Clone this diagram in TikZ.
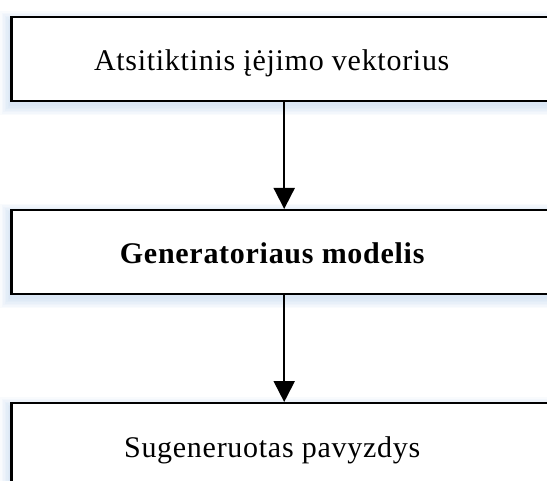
\documentclass[tikz,border=0pt]{standalone}
\usepackage{fontspec}
\setmainfont{Liberation Serif}[LetterSpace=2.4]
\usetikzlibrary{arrows.meta,backgrounds}

\definecolor{shadowblue}{RGB}{150,185,225}

\tikzset{
  blockbox/.style={draw=black, line width=2.3pt, fill=white,
    minimum width=545.6pt, minimum height=84pt, inner sep=0pt},
  blocktext/.style={inner sep=0pt, anchor=base, font=\fontsize{30}{36}\selectfont},
  flowarrow/.style={line width=2pt, -{Triangle[width=21pt,length=21pt]}},
  softshadow/.style={fill=shadowblue, fill opacity=0.06}
}

\begin{document}
\begin{tikzpicture}[x=1pt,y=-1pt]
  \useasboundingbox (0,0) rectangle (547,481);

  % boxes (they run on past the right border)
  \node[blockbox] (noise) at (284.2,59.2) {};
  \node[blockbox] (gen) at (284.2,252.1) {};
  \node[blockbox] (sample) at (284.2,445.2) {};

  % captions sit a little left of the box centres, baseline below the middle
  \node[blocktext] (noiselabel) at ([xshift=-12.5pt,yshift=-11pt]noise.center)
    {Atsitiktinis įėjimo vektorius};
  \node[blocktext] (genlabel) at ([xshift=-12pt,yshift=-11.8pt]gen.center)
    {\bfseries Generatoriaus modelis};
  \node[blocktext] (samplelabel) at ([xshift=-12pt,yshift=-11.8pt]sample.center)
    {Sugeneruotas pavyzdys};

  \draw[flowarrow] (noise.south) -- (gen.north);
  \draw[flowarrow] (gen.south) -- (sample.north);

  % soft drop shadows beneath the boxes
  \begin{scope}[on background layer]
    \foreach \n in {noise,gen,sample}{
      \foreach \d in {0,1.5,...,9}{
        \fill[softshadow]
          ([xshift=-1pt-\d pt, yshift=-4pt-\d pt]\n.south west)
          rectangle ([xshift=-1pt+\d pt, yshift=-4pt+\d pt]\n.north east);
      }
    }
  \end{scope}
\end{tikzpicture}
\end{document}
